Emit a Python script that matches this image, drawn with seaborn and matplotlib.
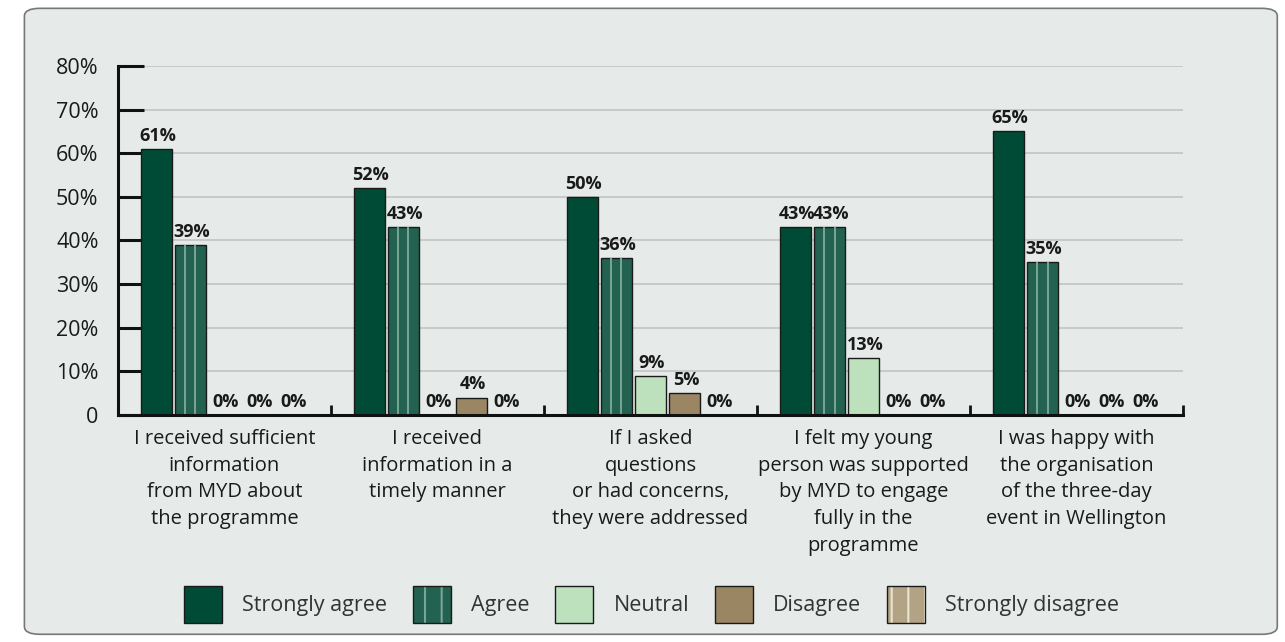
import pandas as pd
import numpy as np
import matplotlib.pyplot as plt
import seaborn as sns
from matplotlib.patches import Patch, FancyBboxPatch
from matplotlib.colors import to_rgba

# Data
categories = [
    "I received sufficient\ninformation\nfrom MYD about\nthe programme",
    "I received\ninformation in a\ntimely manner",
    "If I asked\nquestions\nor had concerns,\nthey were addressed",
    "I felt my young\nperson was supported\nby MYD to engage\nfully in the\nprogramme",
    "I was happy with\nthe organisation\nof the three-day\nevent in Wellington",
]
responses = ["Strongly agree", "Agree", "Neutral", "Disagree", "Strongly disagree"]
strongly_agree = [61, 52, 50, 43, 65]
agree = [39, 43, 36, 43, 35]
neutral = [0, 0, 9, 13, 0]
disagree = [0, 4, 5, 0, 0]
strongly_disagree = [0, 0, 0, 0, 0]
y_ticks = [0, 10, 20, 30, 40, 50, 60, 70, 80]
y_tick_labels = ["0", "10%", "20%", "30%", "40%", "50%", "60%", "70%", "80%"]

colors = ["#004b35", "#236150", "#bde0bd", "#9b8664", "#b2a385"]
stripe_colors = {1: "#7aa593", 4: "#ece4d2"}

rows = []
for series_name, vals in zip(responses, [strongly_agree, agree, neutral, disagree, strongly_disagree]):
    for cat, v in zip(categories, vals):
        rows.append({"category": cat, "response": series_name, "value": v})
df = pd.DataFrame(rows)

sns.set_style("white")
plt.rcParams['font.family'] = ['Open Sans', 'DejaVu Sans']
plt.rcParams['hatch.linewidth'] = 1.5

bg = "#e6ebe9"
fig = plt.figure(figsize=(12.85, 6.42), dpi=100, facecolor="white")
frame = FancyBboxPatch((0.019, 0.012), 0.975, 0.975, boxstyle="round,pad=0,rounding_size=0.012",
                       transform=fig.transFigure, facecolor=bg, edgecolor="#777777",
                       linewidth=1.2, zorder=-5)
fig.patches.append(frame)

ax = fig.add_axes([0.0918, 0.3536, 0.8288, 0.5436])
ax.set_facecolor(bg)

sns.barplot(data=df, x="category", y="value", hue="response", hue_order=responses,
            palette=colors, width=0.8, gap=0.1, edgecolor="#1a1a1a", linewidth=1.0,
            saturation=1, legend=False, ax=ax)

for i, cont in enumerate(ax.containers):
    # light vertical stripes inside the striped series
    if i in stripe_colors:
        for p in cont.patches:
            x0, w, h = p.get_x(), p.get_width(), p.get_height()
            if h > 0:
                ax.vlines([x0 + w / 3, x0 + 2 * w / 3], 0, h, colors=stripe_colors[i],
                          linewidth=1.4, zorder=p.get_zorder() + 0.1)
    vals = [p.get_height() for p in cont.patches]
    anns = ax.bar_label(cont, labels=[f"{v:.0f}%" for v in vals], padding=3,
                        fontsize=13, fontweight="bold", color="#1a1a1a")
    for a in anns:
        a.xyann = (1, 3)

ax.set_ylim(0, 80)
ax.set_xlim(-0.5, len(categories) - 0.5)
ax.set_yticks(y_ticks)
ax.set_yticklabels(y_tick_labels, fontsize=15.5, color="#1a1a1a")
ax.yaxis.grid(True, color="#c4c7c6", linewidth=1.3)
ax.set_axisbelow(True)
ax.tick_params(axis="y", left=True, direction="in", length=19, width=2.2, color="#111111", pad=14)

ax.set_xticks(range(len(categories)))
ax.set_xticklabels(categories, fontsize=14.5, color="#1a1a1a", linespacing=1.45)
ax.tick_params(axis="x", which="major", bottom=False, length=0, pad=10)
ax.set_xticks(np.arange(-0.5, len(categories)), minor=True)
ax.tick_params(axis="x", which="minor", bottom=True, direction="in", length=7, width=2, color="#111111")
ax.set_xlabel("")
ax.set_ylabel("")

for side in ["top", "right"]:
    ax.spines[side].set_visible(False)
for side in ["left", "bottom"]:
    ax.spines[side].set_color("#111111")
    ax.spines[side].set_linewidth(2.2)

handles = []
for i, (name, c) in enumerate(zip(responses, colors)):
    h = Patch(facecolor=c, edgecolor="#1a1a1a", linewidth=1.0, label=name)
    if i in stripe_colors:
        h.set_hatch("|")
        h._hatch_color = to_rgba(stripe_colors[i])
    handles.append(h)

fig.legend(handles=handles, loc="center", bbox_to_anchor=(0.507, 0.059), ncol=5, frameon=False,
           fontsize=15.5, handlelength=1.75, handleheight=2.25, handletextpad=0.95,
           columnspacing=1.2, labelcolor="#333333")

plt.savefig("out.png", dpi=100, facecolor="white")
